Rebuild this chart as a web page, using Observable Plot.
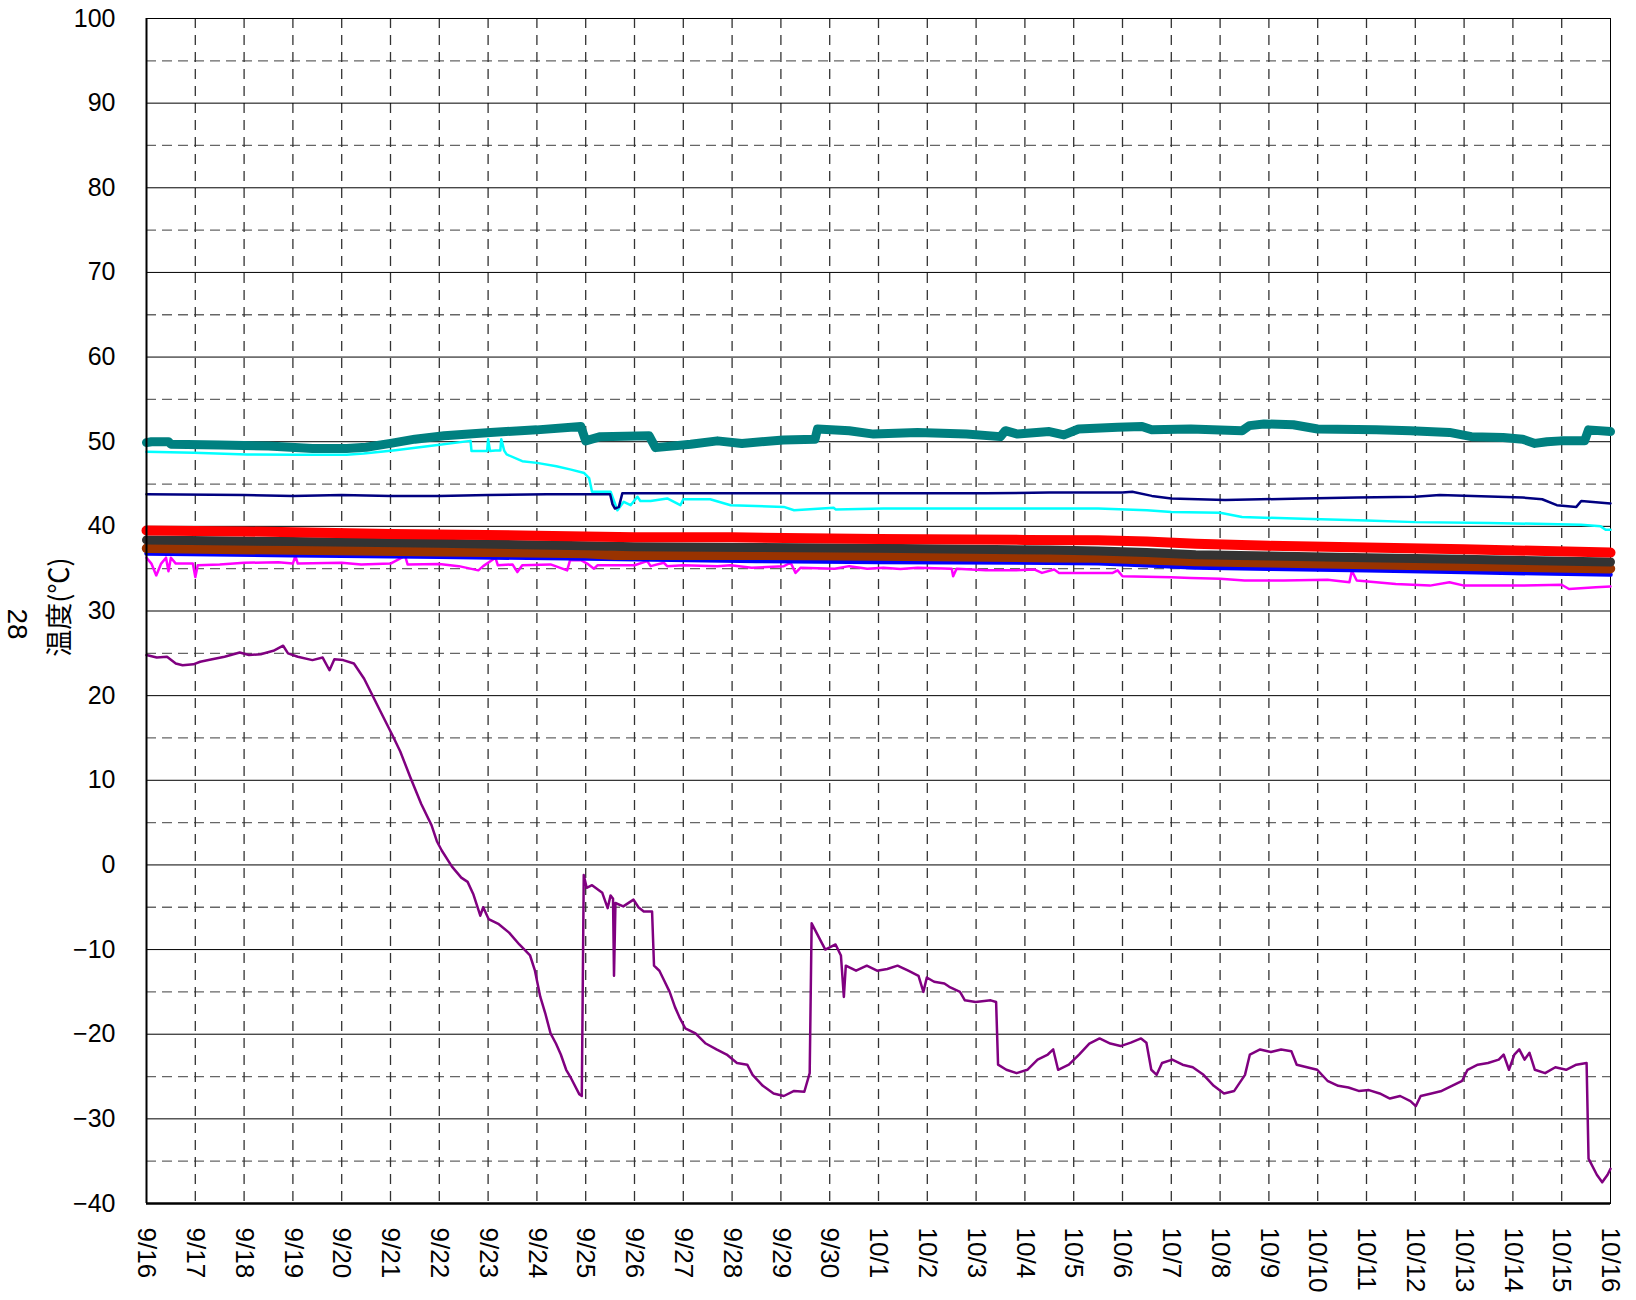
<!DOCTYPE html>
<html>
<head>
<meta charset="utf-8">
<script src="https://cdn.jsdelivr.net/npm/d3@7"></script>
<script src="https://cdn.jsdelivr.net/npm/@observablehq/plot@0.6"></script>
<style>
  html, body { margin: 0; padding: 0; background: #fff; }
  #chart { width: 1636px; height: 1300px; }
</style>
</head>
<body>
<div id="chart"></div>
<script>
// ---- tick labels ----
const dayLabels = ["9/16","9/17","9/18","9/19","9/20","9/21","9/22","9/23","9/24","9/25","9/26","9/27","9/28","9/29","9/30",
  "10/1","10/2","10/3","10/4","10/5","10/6","10/7","10/8","10/9","10/10","10/11","10/12","10/13","10/14","10/15","10/16"];
const yMajorTicks = [-40,-30,-20,-10,0,10,20,30,40,50,60,70,80,90,100];
const yMinorTicks = [-35,-25,-15,-5,5,15,25,35,45,55,65,75,85,95];
const yTitle = "温度(℃)";
const sideLabel = "28";

// ---- series (days since 9/16, temperature °C) ----
const tealDays  = [0,0.1,0.45,0.5,1.5,2.5,3.4,4.1,4.5,5.0,5.5,6.1,7.05,8.0,8.9,9.0,9.3,10.3,10.43,11.15,11.7,12.2,13.05,13.7,13.75,14.4,14.9,15.8,16.8,17.5,17.6,17.85,18.5,18.8,19.1,19.9,20.4,20.6,21.4,22.45,22.6,22.9,23.5,24.0,25.2,25.9,26.7,27.15,27.8,28.2,28.45,28.7,28.98,29.47,29.55,30];
const tealTemps = [49.9,50.0,50.0,49.7,49.6,49.5,49.2,49.2,49.35,49.8,50.3,50.7,51.1,51.4,51.8,50.1,50.6,50.7,49.3,49.7,50.1,49.8,50.2,50.3,51.5,51.3,50.9,51.1,50.9,50.6,51.3,50.9,51.2,50.8,51.5,51.7,51.8,51.4,51.5,51.3,51.9,52.1,52.0,51.5,51.4,51.3,51.1,50.6,50.5,50.3,49.8,50.0,50.1,50.1,51.4,51.2];

const cyanDays  = [0,0.97,2.06,3.08,4.1,4.45,5.1,5.8,6.64,6.66,6.98,7.0,7.04,7.15,7.25,7.27,7.33,7.38,7.7,8.0,8.4,8.7,8.97,9.07,9.13,9.51,9.65,9.78,9.92,10.06,10.12,10.33,10.67,10.94,11.0,11.55,11.97,13.06,13.27,14.08,14.12,15.1,17.5,18.5,19.5,20.5,21.0,22.0,22.45,23.7,25.0,26.0,27.5,29.4,29.8,29.9,30];
const cyanTemps = [48.8,48.7,48.5,48.45,48.45,48.6,49.0,49.5,50.1,48.9,48.9,50.3,48.9,48.95,48.95,50.3,48.95,48.5,47.7,47.5,47.1,46.7,46.3,45.7,44.1,44.1,41.9,42.9,42.5,43.5,43.0,43.0,43.3,42.5,43.2,43.2,42.5,42.3,41.9,42.2,42.0,42.1,42.1,42.1,42.1,41.9,41.7,41.6,41.1,40.9,40.7,40.5,40.4,40.2,40.0,39.6,39.6];

const navyDays  = [0,2.0,3.0,4.0,5.0,6.0,7.0,8.2,9.5,9.55,9.6,9.68,9.75,12.0,15.0,17.2,18.5,20.0,20.2,20.6,21.0,22.1,23.7,24.8,26.0,26.5,28.2,28.6,28.9,29.3,29.4,30];
const navyTemps = [43.8,43.7,43.6,43.7,43.6,43.6,43.7,43.8,43.8,42.6,42.1,42.3,43.9,43.9,43.9,43.9,44.0,44.0,44.1,43.6,43.3,43.1,43.3,43.4,43.5,43.7,43.4,43.2,42.5,42.3,43.0,42.7];

const redDays   = [0,2,5,8,10,12,15,18,19.5,20.5,21.5,23,25,27,30];
const redTemps  = [39.5,39.4,39.1,38.9,38.7,38.7,38.5,38.4,38.35,38.2,37.95,37.7,37.5,37.3,36.9];

const grayDays  = [0,3,6,9,10,12.5,15,18.5,19.5,20.5,21.5,23,25,27,30];
const grayTemps = [38.4,38.2,38.0,37.7,37.6,37.5,37.4,37.2,37.1,36.9,36.65,36.5,36.3,36.1,35.8];

const orangeDays  = [0,5,10,15,19.5,21.5,25,30];
const orangeTemps = [37.9,37.6,37.2,37.0,36.7,36.2,35.9,35.4];

const greenDays  = [0,5,10,15,19.5,21.5,25,30];
const greenTemps = [37.6,37.3,36.9,36.7,36.5,36.0,35.7,35.2];

const yellowDays  = [0,5,10,15,19.5,21.5,25,30];
const yellowTemps = [37.5,37.2,36.8,36.6,36.4,35.9,35.6,35.1];

const brownDays  = [0,3,6,9,9.6,12.5,15,18.5,19.5,20.5,21.5,23,25,27,30];
const brownTemps = [37.4,37.2,37.0,36.8,36.6,36.6,36.5,36.3,36.25,36.05,35.85,35.7,35.5,35.3,35.0];

const blueDays  = [0,3,6,9,12.5,15,18.5,19.5,20.5,21.5,23,25,27,30];
const blueTemps = [36.8,36.6,36.4,36.2,35.9,35.8,35.7,35.65,35.4,35.15,35.0,34.8,34.6,34.3];

const magentaDays  = [0,0.1,0.2,0.3,0.4,0.45,0.5,0.6,0.95,1.0,1.05,1.5,2.0,2.7,3.0,3.05,3.1,4.0,4.4,5.0,5.3,5.35,6.0,6.4,6.8,6.9,7.15,7.2,7.5,7.6,7.7,8.28,8.62,8.68,8.9,9.03,9.17,9.24,10.0,10.26,10.33,10.6,10.67,11.0,11.7,11.97,12.4,13.06,13.2,13.3,13.4,14.1,14.4,14.77,15.1,15.45,15.8,16.5,16.53,16.6,17.2,17.8,18.2,18.35,18.6,18.7,19.8,19.9,20.0,21.0,21.4,22.0,22.5,23.3,24.2,24.65,24.7,24.8,25.6,26.3,26.7,27.0,28.2,29.0,29.15,29.7,30];
const magentaTemps = [36.3,35.6,34.2,35.6,36.3,34.7,36.3,35.6,35.6,34.0,35.4,35.5,35.7,35.75,35.6,36.5,35.6,35.7,35.5,35.6,36.5,35.5,35.55,35.3,34.8,35.3,36.3,35.4,35.5,34.6,35.4,35.5,34.8,36.0,36.0,35.6,35.0,35.4,35.4,35.9,35.3,35.7,35.3,35.4,35.3,35.4,35.1,35.3,35.7,34.5,35.1,35.0,35.3,35.0,35.1,34.95,35.1,35.0,34.1,35.0,34.8,34.8,34.9,34.5,34.9,34.5,34.5,34.8,34.1,34.0,33.9,33.8,33.6,33.6,33.7,33.4,34.75,33.6,33.2,33.0,33.4,33.0,33.0,33.1,32.6,32.8,32.9];

const purpleDays = [0,0.21,0.42,0.6,0.74,0.96,1.1,1.27,1.6,1.91,2.1,2.34,2.6,2.8,2.9,3.1,3.4,3.61,3.75,3.85,4.03,4.25,4.46,4.78,5.05,5.2,5.41,5.63,5.84,5.95,6.05,6.26,6.45,6.58,6.7,6.79,6.84,6.9,7.01,7.22,7.43,7.64,7.86,7.96,8.07,8.17,8.28,8.39,8.49,8.6,8.7,8.87,8.92,8.96,9.02,9.13,9.34,9.45,9.51,9.56,9.58,9.61,9.77,9.98,10.08,10.19,10.36,10.40,10.51,10.62,10.72,10.83,10.93,11.04,11.25,11.46,11.68,11.89,12.1,12.31,12.42,12.63,12.85,13.06,13.27,13.48,13.59,13.63,13.8,13.91,14.12,14.23,14.29,14.33,14.54,14.76,14.97,15.18,15.39,15.61,15.82,15.92,15.99,16.14,16.35,16.45,16.67,16.77,16.99,17.3,17.41,17.45,17.62,17.83,18.05,18.26,18.47,18.58,18.68,18.9,19.11,19.32,19.53,19.75,19.96,20.17,20.38,20.49,20.59,20.7,20.81,21.02,21.23,21.44,21.66,21.87,22.08,22.29,22.51,22.61,22.82,23.04,23.25,23.46,23.57,23.78,23.99,24.2,24.42,24.63,24.84,25.05,25.27,25.48,25.69,25.9,26.01,26.11,26.33,26.54,26.75,26.96,27.07,27.28,27.49,27.71,27.81,27.92,28.03,28.13,28.24,28.34,28.45,28.66,28.87,29.09,29.3,29.51,29.55,29.72,29.83,29.94,30];
const purpleTemps = [24.8,24.5,24.6,23.8,23.6,23.7,24.0,24.2,24.6,25.1,24.8,24.9,25.3,25.9,25.0,24.6,24.2,24.5,23.0,24.3,24.2,23.8,22.0,18.3,15.2,13.4,10.3,7.2,4.7,2.8,1.7,-0.2,-1.5,-2.0,-3.5,-5.1,-6.0,-5.0,-6.4,-7.0,-8.0,-9.4,-10.7,-12.5,-15.6,-17.5,-19.9,-21.1,-22.4,-24.2,-25.2,-27.1,-27.3,-1.2,-2.7,-2.4,-3.3,-5.1,-3.6,-4.0,-13.1,-4.5,-4.9,-4.1,-5.0,-5.5,-5.5,-11.9,-12.5,-13.8,-15.0,-16.8,-18.1,-19.3,-19.9,-21.1,-21.8,-22.4,-23.4,-23.6,-24.8,-26.1,-27.0,-27.3,-26.7,-26.8,-24.6,-6.9,-8.8,-10.0,-9.4,-10.7,-15.6,-11.9,-12.5,-11.9,-12.5,-12.3,-11.9,-12.5,-13.1,-15.0,-13.3,-13.8,-14.0,-14.4,-15.0,-16.0,-16.2,-16.0,-16.2,-23.6,-24.2,-24.6,-24.2,-23.0,-22.4,-21.8,-24.2,-23.6,-22.4,-21.1,-20.5,-21.1,-21.4,-21.0,-20.5,-21.0,-24.2,-24.8,-23.4,-23.0,-23.6,-23.9,-24.8,-26.1,-27.0,-26.7,-24.8,-22.4,-21.8,-22.1,-21.8,-22.0,-23.6,-23.9,-24.2,-25.5,-26.1,-26.3,-26.7,-26.6,-27.0,-27.6,-27.3,-27.9,-28.5,-27.3,-27.0,-26.7,-26.1,-25.5,-24.2,-23.6,-23.4,-23.0,-22.4,-24.2,-22.4,-21.8,-23.0,-22.2,-24.2,-24.6,-23.9,-24.2,-23.6,-23.4,-34.7,-36.6,-37.5,-36.6,-35.9];

// ---- styling per series (draw order: first drawn at the bottom) ----
const seriesStyle = [
  {days: magentaDays, temps: magentaTemps, color: "#FF00FF", width: 2.5},
  {days: blueDays,    temps: blueTemps,    color: "#0000FF", width: 4.5},
  {days: yellowDays,  temps: yellowTemps,  color: "#FFCC00", width: 2.5},
  {days: greenDays,   temps: greenTemps,   color: "#00CC00", width: 2.5},
  {days: orangeDays,  temps: orangeTemps,  color: "#FF6600", width: 2.5},
  {days: brownDays,   temps: brownTemps,   color: "#993300", width: 9.5},
  {days: grayDays,    temps: grayTemps,    color: "#333333", width: 9},
  {days: redDays,     temps: redTemps,     color: "#FF0000", width: 10},
  {days: cyanDays,    temps: cyanTemps,    color: "#00FFFF", width: 2.5},
  {days: navyDays,    temps: navyTemps,    color: "#000080", width: 2.5},
  {days: tealDays,    temps: tealTemps,    color: "#008080", width: 9},
  {days: purpleDays,  temps: purpleTemps,  color: "#800080", width: 2.5}
];

const toRows = (days, temps) => days.map((d, i) => ({t: d, v: temps[i]}));

const fontLatin = "'Liberation Sans', Arial, Helvetica, sans-serif";

const lineMarks = seriesStyle.map(s =>
  Plot.line(toRows(s.days, s.temps), {
    x: "t", y: "v", stroke: s.color, strokeWidth: s.width,
    strokeLinejoin: "round", strokeLinecap: "round"
  })
);

const chart = Plot.plot({
  width: 1636,
  height: 1300,
  marginLeft: 146,
  marginRight: 26,
  marginTop: 18,
  marginBottom: 97,
  style: {fontFamily: fontLatin, fontSize: "25px", background: "#fff", color: "#000"},
  x: {type: "linear", domain: [0, 30]},
  y: {domain: [-40, 100]},
  marks: [
    Plot.ruleY(yMinorTicks, {stroke: "#666", strokeWidth: 1.3, strokeDasharray: "10,6"}),
    Plot.ruleX(d3.range(1, 30), {stroke: "#333", strokeWidth: 1.3, strokeDasharray: "10,7"}),
    Plot.ruleY(yMajorTicks.filter(v => v > -40 && v < 100), {stroke: "#000", strokeWidth: 1}),
    Plot.frame({stroke: "#000", strokeWidth: 1}),
    ...lineMarks,
    Plot.ruleX([0], {stroke: "#000", strokeWidth: 2}),
    Plot.ruleY([-40], {stroke: "#000", strokeWidth: 2.5}),
    Plot.axisY(yMajorTicks, {tickSize: 0, tickPadding: 31, fontSize: 25, fontFamily: fontLatin, label: null}),
    Plot.axisX(d3.range(0, 31), {
      tickFormat: i => dayLabels[i], tickRotate: 90, tickSize: 0, tickPadding: 24,
      fontSize: 26, fontFamily: fontLatin, label: null
    }),
    Plot.text([yTitle], {frameAnchor: "left", textAnchor: "middle", dx: -86, dy: -4, rotate: -90, fontSize: 27,
      fontFamily: "'Noto Sans CJK JP', sans-serif", fill: "#000"}),
    Plot.text([sideLabel], {frameAnchor: "left", textAnchor: "middle", dx: -130, dy: 13, rotate: 90, fontSize: 28,
      fontFamily: fontLatin, fill: "#000"})
  ]
});

document.getElementById("chart").appendChild(chart);
</script>
</body>
</html>
